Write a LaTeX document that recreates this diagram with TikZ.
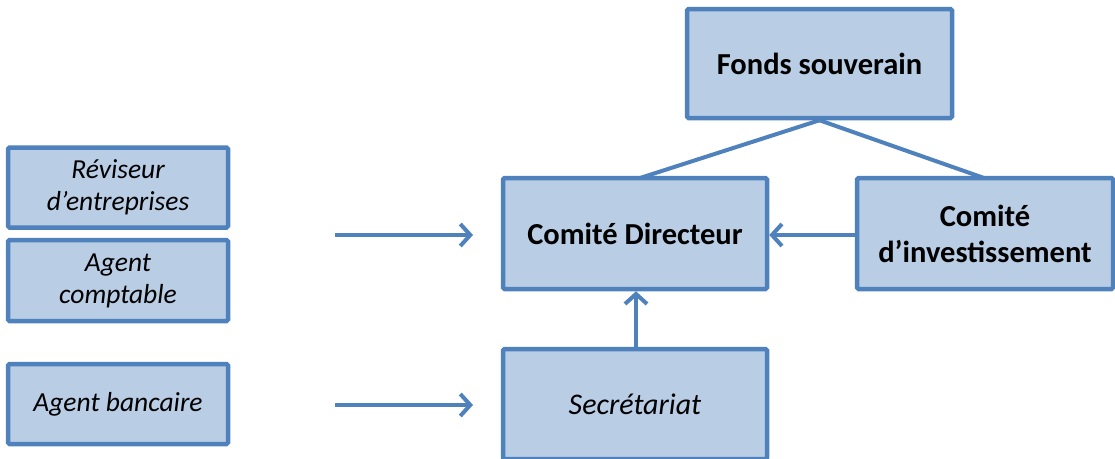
\documentclass[tikz,border=0pt]{standalone}
\usepackage{fontspec}
\setmainfont{Carlito}
\usetikzlibrary{arrows.meta}
\definecolor{bordc}{HTML}{4F81BD}
\definecolor{fillc}{HTML}{B9CDE5}
\begin{document}
\begin{tikzpicture}[x=1pt,y=-1pt,
  box/.style={draw=bordc,fill=fillc,line width=4.5pt,rounded corners=1.5pt,align=center,inner sep=0pt},
  bigbox/.style={box,font=\fontsize{30.5}{36}\selectfont\bfseries},
  smallbox/.style={box,font=\fontsize{27.5}{32}\selectfont\itshape},
  conn/.style={draw=bordc,line width=4pt},
  arr/.style={conn,-{Straight Barb[length=10pt,width=22pt,line width=4pt]}}]
\useasboundingbox (0,0) rectangle (1115,458);
\node[bigbox,minimum width=265pt,minimum height=109pt] (fonds) at (819.5,63.5) {Fonds souverain};
\node[bigbox,minimum width=264pt,minimum height=111pt] (dir) at (635,233.5) {Comité Directeur};
\node[bigbox,minimum width=256pt,minimum height=111pt] (inv) at (985,233.5) {Comité\\d’investissement};
\node[box,minimum width=264pt,minimum height=110pt,font=\fontsize{30}{36}\selectfont\itshape] (sec) at (635,404) {Secrétariat};
\node[smallbox,minimum width=220pt,minimum height=80pt] (rev) at (118,187.5) {Réviseur\\d’entreprises};
\node[smallbox,minimum width=220pt,minimum height=81pt] (comp) at (118,280.5) {Agent\\comptable};
\node[smallbox,minimum width=220pt,minimum height=80pt] (banc) at (118,404) {Agent bancaire};
\coordinate (a1s) at (335,235);
\coordinate (a1e) at (473,235);
\coordinate (a2s) at (335,405);
\coordinate (a2e) at (473,405);
\draw[arr] (a1s) -- (a1e);
\draw[arr] (a2s) -- (a2e);
\draw[arr] (inv.west |- 0,235) -- (dir.east |- 0,235);
\draw[arr] (sec.north -| 636,0) -- (dir.south -| 636,0);
\draw[conn] (fonds.south) -- (640,178);
\draw[conn] (fonds.south) -- (984,178);
\end{tikzpicture}
\end{document}
